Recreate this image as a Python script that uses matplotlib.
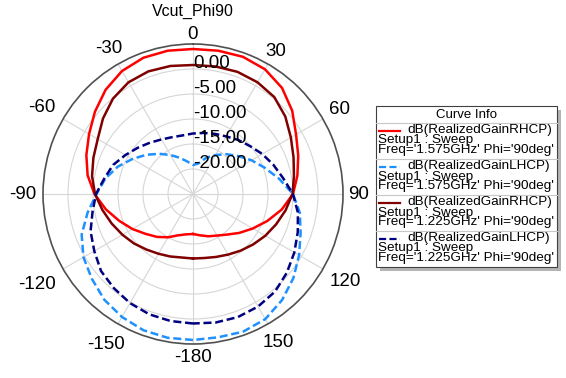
import numpy as np
import matplotlib
matplotlib.use('Agg')
import matplotlib.pyplot as plt
from matplotlib.patches import Rectangle
from matplotlib.lines import Line2D
from matplotlib.ticker import MultipleLocator

plt.rcParams['font.family'] = ['Liberation Sans', 'DejaVu Sans']

# angles (deg), -180..180 step 10
theta_deg = np.arange(-180, 181, 10)

# gain in dB
rhcp_1575 = [-17.0, -16.8, -16.2, -15.0, -13.8, -12.6, -11.0, -9.3, -7.3, -5.3,
             -3.6, -2.3, -1.0, 0.6, 2.2, 3.4, 4.0, 4.1, 4.0, 4.1,
             4.2, 3.8, 2.7, 0.9, -1.2, -2.6, -3.8, -5.0, -7.0, -9.2,
             -11.2, -12.9, -14.4, -15.4, -16.0, -16.6, -17.0]
lhcp_1575 = [4.2, 4.2, 4.0, 3.4, 2.6, 1.4, 0.3, -1.3, -3.6, -5.7,
             -7.2, -9.0, -11.0, -12.8, -14.5, -16.0, -17.3, -18.4, -19.2, -18.8,
             -17.3, -16.0, -14.6, -13.2, -11.5, -9.7, -7.5, -5.0, -3.3, -2.1,
             -0.5, 1.2, 2.7, 3.9, 4.3, 4.1, 4.2]
rhcp_1225 = [-12.1, -12.1, -11.7, -11.2, -10.5, -9.6, -8.7, -7.7, -6.6, -5.4,
             -4.5, -3.8, -3.0, -1.5, -0.1, 0.8, 1.1, 1.0, 0.8, 0.9,
             1.0, 0.8, 0.3, -0.9, -2.4, -3.6, -4.5, -5.1, -6.2, -7.3,
             -8.3, -9.3, -10.2, -11.0, -11.6, -12.0, -12.1]
lhcp_1225 = [0.9, 0.8, 0.6, 0.2, -0.4, -1.0, -2.2, -3.2, -4.6, -5.6,
             -7.0, -8.0, -9.4, -10.6, -11.6, -12.4, -12.9, -13.1, -12.9, -12.6,
             -12.2, -11.7, -10.9, -10.1, -9.0, -7.9, -6.7, -5.0, -3.7, -2.7,
             -1.6, -0.5, 0.5, 1.0, 1.2, 1.1, 0.9]

series = [rhcp_1575, lhcp_1575, rhcp_1225, lhcp_1225]
names = ['dB(RealizedGainRHCP)', 'dB(RealizedGainLHCP)',
         'dB(RealizedGainRHCP)', 'dB(RealizedGainLHCP)']
freqs = ['1.575GHz', '1.575GHz', '1.225GHz', '1.225GHz']
colors = ['#ff0000', '#1e90ff', '#800000', '#000080']
styles = ['-', '--', '-', '--']

r_ticks = [-20, -15, -10, -5, 0]
theta_ticks = [0, 30, 60, 90, 120, 150, 180, 210, 240, 270, 300, 330]
theta_labels = ['0', '30', '60', '90', '120', '150', '-180', '-150', '-120', '-90', '-60', '-30']
# label distance from centre, in pixels (HFSS puts them unevenly)
label_dist = [160, 165, 169, 166, 176, 171, 164, 174, 180, 170, 174, 168]

W, H = 566, 378
fig = plt.figure(figsize=(W / 100, H / 100), dpi=100)


def px(x, y):
    return x / W, 1 - y / H


cx, cy, R = 193, 194, 150
ax = fig.add_axes([(cx - R) / W, (H - cy - R) / H, 2 * R / W, 2 * R / H], projection='polar')
ax.set_theta_zero_location('N')
ax.set_theta_direction(-1)
ax.set_ylim(-25, 5)
ax.set_yticks(r_ticks)
ax.set_yticklabels([])
ax.set_xticks(np.deg2rad(theta_ticks))
ax.set_xticklabels([])
ax.xaxis.set_minor_locator(MultipleLocator(np.deg2rad(5)))
ax.tick_params(axis='x', which='major', direction='in', length=6, width=1, color='#404040')
ax.tick_params(axis='x', which='minor', direction='in', length=4, width=0.8, color='#404040')
ax.grid(True, color='#d6d6d6', lw=0.8)
ax.spines['polar'].set_color('#505050')
ax.spines['polar'].set_linewidth(1.2)

th = np.deg2rad(theta_deg)
for vals, c, ls in zip(series, colors, styles):
    if ls == '--':
        ax.plot(th, vals, color=c, lw=1.8, ls=ls, dashes=(3.2, 1.5))
    else:
        ax.plot(th, vals, color=c, lw=1.8, ls=ls)

for r in r_ticks:
    ax.text(0, r + 0.2, '%.2f' % r if r != 0 else '0.00', ha='left', va='baseline', fontsize=13.5)

for a, lab, d in zip(theta_ticks, theta_labels, label_dist):
    ax.text(np.deg2rad(a), -25 + d / 5.0, lab, ha='center', va='center', fontsize=13.5, clip_on=False)

fig.text(*px(193, 11), 'Vcut_Phi90', ha='center', va='center', fontsize=11.5)

# legend box
bl, bt, br, bb = 376, 106, 557, 267
shadow = Rectangle(px(bl + 4, bb + 4), (br - bl) / W, (bb - bt) / H, transform=fig.transFigure,
                   facecolor='#b4b4b4', edgecolor='none')
fig.add_artist(shadow)
box = Rectangle(px(bl, bb), (br - bl) / W, (bb - bt) / H, transform=fig.transFigure,
                facecolor='white', edgecolor='#404040', lw=0.8)
fig.add_artist(box)
fig.text(*px((bl + br) / 2, 114.5), 'Curve Info', ha='center', va='center', fontsize=9.5)
row_top = 123
row_h = 36
for i in range(4):
    y0 = row_top + i * row_h
    fig.add_artist(Line2D([px(bl, 0)[0], px(br, 0)[0]], [px(0, y0)[1]] * 2,
                          transform=fig.transFigure, color='#c8c8c8', lw=0.8))
    ly = y0 + 7.5
    kw = dict(dashes=(3.2, 1.5)) if styles[i] == '--' else {}
    fig.add_artist(Line2D([px(379, 0)[0], px(400, 0)[0]], [px(0, ly)[1]] * 2,
                          transform=fig.transFigure, color=colors[i], lw=1.6, ls=styles[i], **kw))
    fig.text(*px(407, ly), names[i], ha='left', va='center', fontsize=9.7)
    fig.text(*px(378, y0 + 17.5), 'Setup1 : Sweep', ha='left', va='center', fontsize=9.7)
    fig.text(*px(378, y0 + 27.5), "Freq='%s' Phi='90deg'" % freqs[i], ha='left', va='center', fontsize=9.7)

fig.savefig('out.png', dpi=100)
